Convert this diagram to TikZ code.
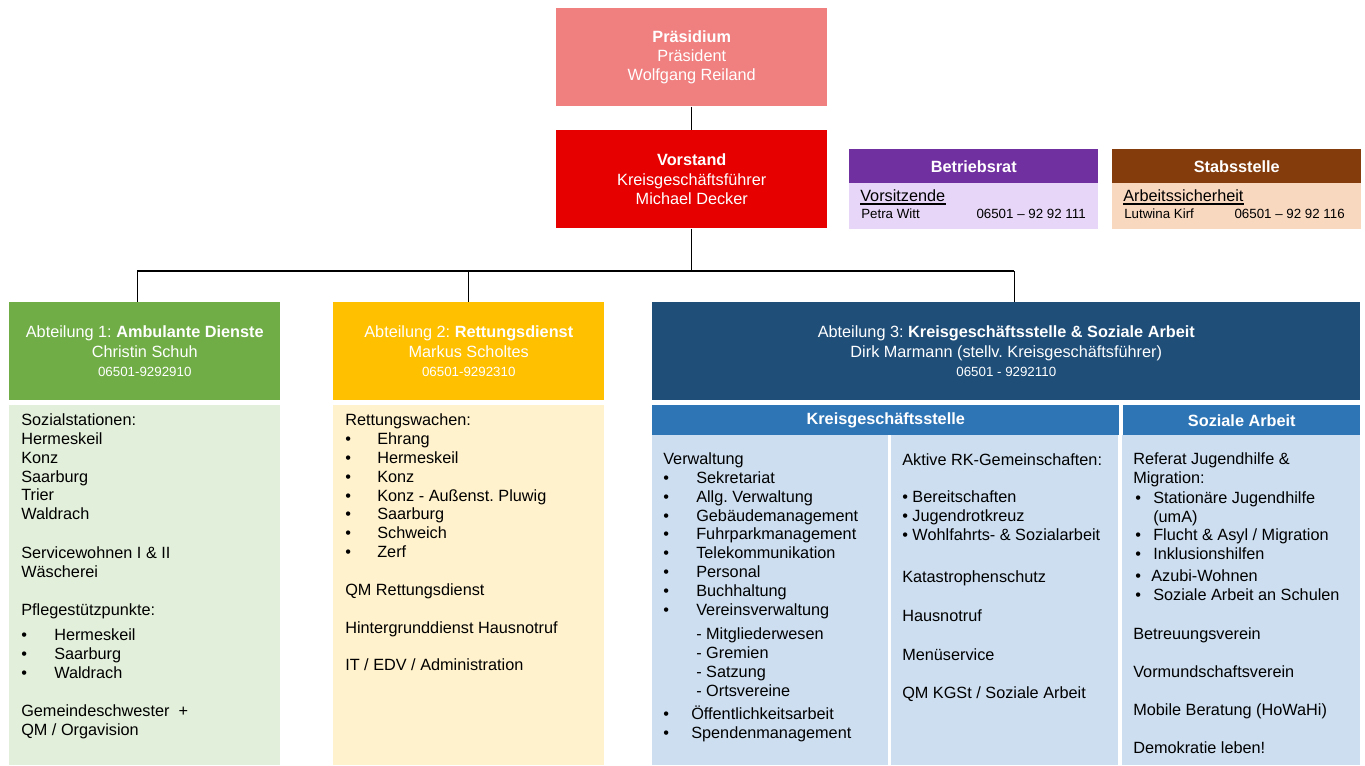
\documentclass[tikz,border=0pt]{standalone}
\usepackage{fontspec}
\setmainfont{Liberation Sans}
\frenchspacing
\newlength\pxu \setlength\pxu{0.75pt}
\definecolor{cPres}{RGB}{240,128,128}
\definecolor{cVor}{RGB}{230,0,0}
\definecolor{cBR}{RGB}{112,48,160}
\definecolor{cBRl}{RGB}{231,214,247}
\definecolor{cSt}{RGB}{132,60,12}
\definecolor{cStl}{RGB}{249,216,192}
\definecolor{cAa}{RGB}{112,173,71}
\definecolor{cAal}{RGB}{226,239,218}
\definecolor{cAb}{RGB}{255,192,0}
\definecolor{cAbl}{RGB}{255,242,204}
\definecolor{cAc}{RGB}{31,78,121}
\definecolor{cAcm}{RGB}{46,117,182}
\definecolor{cAcl}{RGB}{204,222,240}
\begin{document}
\begin{tikzpicture}[x=0.75pt,y=-0.75pt,
  box/.style={rectangle, inner sep=0pt, anchor=north west, align=center, text=white,
    font=\fontsize{12.2}{14.6}\selectfont\frenchspacing},
  panel/.style={rectangle, inner sep=0pt, anchor=north west},
  body/.style={inner sep=0pt, anchor=base west, font=\fontsize{12.2}{14.25}\selectfont\frenchspacing, text=black},
  small/.style={inner sep=0pt, anchor=base west, font=\fontsize{10}{12}\selectfont\frenchspacing, text=black},
  conn/.style={draw=black, line width=0.75pt},
  bus/.style={draw=black, line width=1.5pt}]
\useasboundingbox (0,0) rectangle (1365,765);

% --- top boxes
\node[box, fill=cPres, minimum width=271\pxu, minimum height=98\pxu] (pres) at (556,8)
  {\textbf{Präsidium}\\Präsident\\Wolfgang Reiland};
\node[box, fill=cVor, minimum width=271\pxu, minimum height=98\pxu] (vor) at (556,130)
  {\textbf{Vorstand}\\Kreisgeschäftsführer\\Michael Decker};

% --- Betriebsrat
\node[box, fill=cBR, minimum width=249\pxu, minimum height=34\pxu] (br) at (849,149) {\textbf{Betriebsrat}};
\node[panel, fill=cBRl, minimum width=249\pxu, minimum height=46\pxu] (brb) at (849,183) {};
\node[body] (brv) at (860,201) {Vorsitzende};
\draw[line width=1.5pt] ([yshift=-2.5\pxu]brv.base west) -- ([yshift=-2.5\pxu]brv.base east);
\node[small] (brn) at (861,218) {Petra Witt};
\node[small, anchor=base east] (brt) at (1086,218) {06501 – 92 92 111};

% --- Stabsstelle
\node[box, fill=cSt, minimum width=249\pxu, minimum height=34\pxu] (st) at (1112,149) {\textbf{Stabsstelle}};
\node[panel, fill=cStl, minimum width=249\pxu, minimum height=46\pxu] (stb) at (1112,183) {};
\node[body] (stv) at (1123,201) {Arbeitssicherheit};
\draw[line width=1.5pt] ([yshift=-2.5\pxu]stv.base west) -- ([yshift=-2.5\pxu]stv.base east);
\node[small] (stn) at (1124,218) {Lutwina Kirf};
\node[small, anchor=base east] (stt) at (1345,218) {06501 – 92 92 116};

% --- Abteilungen headers
\node[box, fill=cAa, minimum width=271\pxu, minimum height=98\pxu] (abt1) at (9,302)
  {Abteilung 1: \textbf{Ambulante Dienste}\\Christin Schuh\\{\fontsize{10}{12}\selectfont 06501-9292910}};
\node[box, fill=cAb, minimum width=271\pxu, minimum height=98\pxu] (abt2) at (333,302)
  {Abteilung 2: \textbf{Rettungsdienst}\\Markus Scholtes\\{\fontsize{10}{12}\selectfont 06501-9292310}};
\node[box, fill=cAc, minimum width=708\pxu, minimum height=98\pxu] (abt3) at (652,302)
  {Abteilung 3: \textbf{Kreisgeschäftsstelle \& Soziale Arbeit}\\Dirk Marmann (stellv. Kreisgeschäftsführer)\\{\fontsize{10}{12}\selectfont 06501 - 9292110}};

% --- bodies
\node[panel, fill=cAal, minimum width=271\pxu, minimum height=360\pxu] (b1) at (9,405) {};
\node[panel, fill=cAbl, minimum width=271\pxu, minimum height=360\pxu] (b2) at (333,405) {};
\node[box, fill=cAcm, minimum width=467\pxu, minimum height=30\pxu] (kgs) at (652,405) {\textbf{Kreisgeschäftsstelle}};
\node[box, fill=cAcm, minimum width=237\pxu, minimum height=30\pxu] (soz) at (1123,405) {\textbf{Soziale Arbeit}};
\node[panel, fill=cAcl, minimum width=236\pxu, minimum height=330\pxu] (c1) at (652,435) {};
\node[panel, fill=cAcl, minimum width=227\pxu, minimum height=330\pxu] (c2) at (891,435) {};
\node[panel, fill=cAcl, minimum width=238\pxu, minimum height=330\pxu] (c3) at (1122,435) {};

% --- connectors
\coordinate (busL) at (137,271);
\coordinate (busR) at (1014,271);
\draw[conn] (pres.south) -- (vor.north);
\draw[conn] (vor.south) -- (vor.south |- busL);
\draw[bus] (busL) -- (busR);
\draw[conn] (busL) -- (busL |- abt1.north);
\draw[conn] (abt2.north |- busL) -- (abt2.north);
\draw[conn] (busR) -- (busR |- abt3.north);

% --- Abteilung 1 text
\foreach \y/\t in {425/Sozialstationen:,444/Hermeskeil,463/Konz,482/Saarburg,500/Trier,519/Waldrach,558/{Servicewohnen I \& II},577/Wäscherei,615/Pflegestützpunkte:,716/{Gemeindeschwester\ \ +},735/{QM / Orgavision}}
  \node[body] (ta-\y) at (21,\y) {\t};
\foreach \y/\t in {640/Hermeskeil,659/Saarburg,678/Waldrach}{
  \node[body] (tab-\y) at (21,\y) {\textbullet};
  \node[body] (tai-\y) at (54,\y) {\t};}

% --- Abteilung 2 text
\foreach \y/\t in {425/Rettungswachen:,595/QM Rettungsdienst,633/Hintergrunddienst Hausnotruf,670/{IT / EDV / Administration}}
  \node[body] (tb-\y) at (345,\y) {\t};
\foreach \y/\t in {444/Ehrang,463/Hermeskeil,482/Konz,501/{Konz - Außenst. Pluwig},519/Saarburg,538/Schweich,557/Zerf}{
  \node[body] (tbb-\y) at (345,\y) {\textbullet};
  \node[body] (tbi-\y) at (377,\y) {\t};}

% --- Kreisgeschäftsstelle, column 1
\node[body] (tc-464) at (663,464) {Verwaltung};
\foreach \y/\t in {483/Sekretariat,502/Allg. Verwaltung,521/Gebäudemanagement,539/Fuhrparkmanagement,558/Telekommunikation,577/Personal,596/Buchhaltung,615/Vereinsverwaltung}{
  \node[body] (tcb-\y) at (663,\y) {\textbullet};
  \node[body] (tci-\y) at (696,\y) {\t};}
\foreach \y/\t in {639/- Mitgliederwesen,658/- Gremien,677/- Satzung,696/- Ortsvereine}
  \node[body] (tcs-\y) at (696,\y) {\t};
\foreach \y/\t in {719/Öffentlichkeitsarbeit,738/Spendenmanagement}{
  \node[body] (tcb-\y) at (663,\y) {\textbullet};
  \node[body] (tci-\y) at (691,\y) {\t};}

% --- Kreisgeschäftsstelle, column 2
\foreach \y/\t in {465/Aktive RK-Gemeinschaften:,502/• Bereitschaften,521/• Jugendrotkreuz,540/{• Wohlfahrts- \& Sozialarbeit},582/Katastrophenschutz,621/Hausnotruf,660/Menüservice,698/{QM KGSt / Soziale Arbeit}}
  \node[body] (td-\y) at (902,\y) {\t};

% --- Soziale Arbeit
\foreach \y/\t in {464/{Referat Jugendhilfe \&},483/Migration:,639/Betreuungsverein,677/Vormundschaftsverein,715/{Mobile Beratung (HoWaHi)},753/{Demokratie leben!}}
  \node[body] (te-\y) at (1133,\y) {\t};
\foreach \y/\t in {503/Stationäre Jugendhilfe,540/{Flucht \& Asyl / Migration},559/Inklusionshilfen,600/Soziale Arbeit an Schulen}{
  \node[body] (teb-\y) at (1135,\y) {\textbullet};
  \node[body] (tei-\y) at (1153,\y) {\t};}
\node[body] (tei-522) at (1153,522) {(umA)};
\node[body] (teb-581) at (1135,581) {\textbullet};
\node[body] (tei-581) at (1151,581) {Azubi-Wohnen};
\end{tikzpicture}
\end{document}
